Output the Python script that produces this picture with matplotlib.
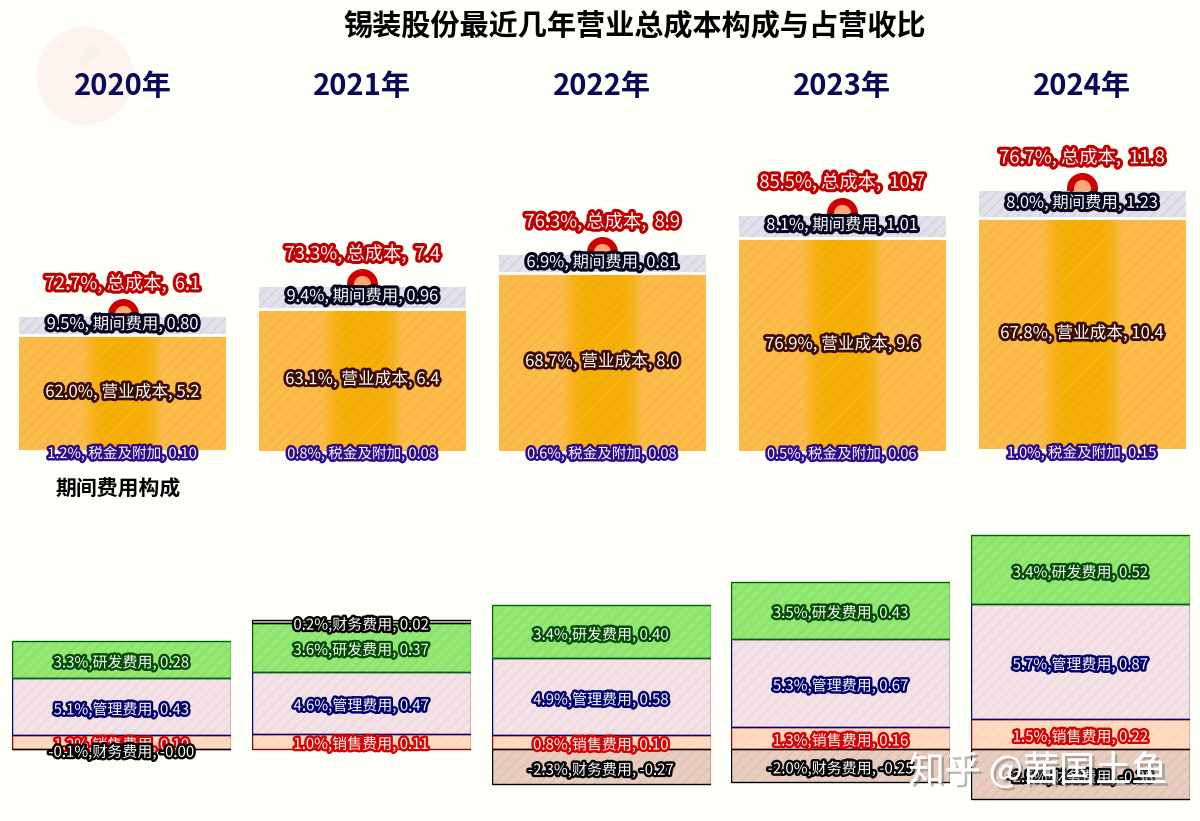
import matplotlib
matplotlib.use('Agg')
import matplotlib.pyplot as plt
import matplotlib.patheffects as pe
from matplotlib.colors import to_rgb
from matplotlib.patches import Ellipse
import numpy as np

plt.rcParams['font.family'] = ['Noto Sans CJK SC', 'DejaVu Sans']
plt.rcParams['hatch.linewidth'] = 0.8

# --- dados ---
anos = ['2020年', '2021年', '2022年', '2023年', '2024年']

total_pct = [72.7, 73.3, 76.3, 85.5, 76.7]
total_val = [6.1, 7.4, 8.9, 10.7, 11.8]
periodo_pct = [9.5, 9.4, 6.9, 8.1, 8.0]
periodo_val = [0.80, 0.96, 0.81, 1.01, 1.23]
custo_pct = [62.0, 63.1, 68.7, 76.9, 67.8]
custo_val = [5.2, 6.4, 8.0, 9.6, 10.4]
taxa_pct = [1.2, 0.8, 0.6, 0.5, 1.0]
taxa_val = [0.10, 0.08, 0.08, 0.06, 0.15]

venda_pct = [1.2, 1.0, 0.8, 1.3, 1.5]
venda_val = [0.10, 0.11, 0.10, 0.16, 0.22]
admin_pct = [5.1, 4.6, 4.9, 5.3, 5.7]
admin_val = [0.43, 0.47, 0.58, 0.67, 0.87]
rd_pct = [3.3, 3.6, 3.4, 3.5, 3.4]
rd_val = [0.28, 0.37, 0.40, 0.43, 0.52]
fin_pct = [-0.1, 0.2, -2.3, -2.0, -2.5]
fin_val = [-0.00, 0.02, -0.27, -0.25, -0.38]

BG = '#FFFFFA'
W, H = 1200, 821


def eixo(x0, y_topo, largura, y_base, ylim):
    ax = fig.add_axes([x0 / W, 1 - y_base / H, largura / W, (y_base - y_topo) / H])
    ax.set_xlim(-0.5, 0.5)
    ax.set_ylim(*ylim)
    ax.axis('off')
    return ax


def rotulo(ax, y, txt, cor, size, lw, dy=0, fam=None, weight='medium', zorder=10):
    ax.annotate(txt, (0, y), xytext=(0, dy), textcoords='offset points',
                ha='center', va='center', fontsize=size, color='white',
                weight=weight, family=fam or ['Noto Sans CJK SC', 'DejaVu Sans'],
                zorder=zorder, annotation_clip=False,
                path_effects=[pe.withStroke(linewidth=lw, foreground=cor)])


fig = plt.figure(figsize=(12, 8.21), dpi=100, facecolor=BG)

# --- logo e títulos ---
fig.add_artist(Ellipse((85 / W, 1 - 76 / H), 97 / W, 98 / H, transform=fig.transFigure,
                       facecolor='#FEF3EF', edgecolor='none'))
fig.add_artist(Ellipse((85 / W, 1 - 78 / H), 48 / W, 50 / H, transform=fig.transFigure,
                       facecolor='none', edgecolor='#FFF9F6', linewidth=1.2))
fig.add_artist(Ellipse((89 / W, 1 - 56 / H), 13 / W, 24 / H, angle=-25, transform=fig.transFigure,
                       facecolor='#F3F3EC', edgecolor='none'))
fig.text(635 / W, 1 - 25.5 / H, '锡装股份最近几年营业总成本构成与占营收比', ha='center', va='center',
         fontsize=21, weight='bold', color='black')
fig.text(118 / W, 1 - 489.5 / H, '期间费用构成', ha='center', va='center',
         fontsize=15, weight='black', color='black')

# faixa central mais saturada das barras laranja
alpha_faixa = np.array([0, 0, 0, 0, 0, 0, 0, 0.7, 1, 1, 1, 1, 1, 0.7, 0, 0, 0, 0, 0, 0, 0])
rgba_faixa = np.zeros((1, alpha_faixa.size, 4))
rgba_faixa[..., :3] = to_rgb('#F5AE00')
rgba_faixa[..., 3] = alpha_faixa

# --- linha de cima ---
esc_topo = 22.2
for i in range(5):
    x0 = 19 + 239.9 * i
    ax = eixo(x0, 140, 207, 452.5, (0, 312.5 / esc_topo))
    fig.text((x0 + 103.5) / W, 1 - 86.5 / H, anos[i], ha='center', va='center',
             fontsize=21, weight='bold', color='#0A0A5C')

    b1 = taxa_val[i]
    b2 = b1 + custo_val[i]
    topo = b2 + periodo_val[i]

    ax.scatter([0], [topo + 0.14], s=300, facecolor='#FFA673', edgecolor='#CC0000',
               linewidth=5, zorder=1, clip_on=False)

    ax.bar(0, taxa_val[i], 1, color=BG, edgecolor='none', zorder=2)
    ax.bar(0, custo_val[i], 1, bottom=b1, color='#FCBC4C', edgecolor='none', zorder=2)
    ax.imshow(rgba_faixa, extent=[-0.5, 0.5, b1, b2], aspect='auto',
              interpolation='bilinear', zorder=2.1)
    ax.set_xlim(-0.5, 0.5)
    ax.set_ylim(0, 312.5 / esc_topo)
    ax.bar(0, custo_val[i], 1, bottom=b1, facecolor='none', edgecolor='#F6B23A', hatch='///',
           linewidth=0, zorder=2.2)
    ax.bar(0, periodo_val[i], 1, bottom=b2, color='#DEDDE8', alpha=0.88, edgecolor='none', zorder=3)
    ax.bar(0, periodo_val[i], 1, bottom=b2, facecolor='none', edgecolor='#D0CFDF', hatch='///',
           linewidth=0, zorder=3.1)
    ax.plot([-0.5, 0.5], [b2, b2], color='white', linewidth=2, zorder=4)

    rotulo(ax, topo, f'{total_pct[i]:.1f}%, 总成本,  {total_val[i]:.1f}', '#C00000', 13.2, 4.5, dy=24)
    rotulo(ax, b2 + periodo_val[i] / 2, f'{periodo_pct[i]:.1f}%, 期间费用, {periodo_val[i]:.2f}',
           '#05051F', 11.8, 4.5, dy=1)
    rotulo(ax, b1 + custo_val[i] / 2, f'{custo_pct[i]:.1f}%, 营业成本, {custo_val[i]:.1f}',
           '#3D0C00', 12, 4)
    rotulo(ax, b1 / 2, f'{taxa_pct[i]:.1f}%, 税金及附加, {taxa_val[i]:.2f}',
           '#2E0A8C', 10.5, 3.5, dy=-1.5)

# --- linha de baixo ---
esc_baixo = 132.5
estreita = ['Liberation Sans Narrow', 'Noto Sans CJK SC', 'DejaVu Sans']
ylim_baixo = ((748.5 - 810) / esc_baixo, (748.5 - 500) / esc_baixo)
for i in range(5):
    x0 = 12 + 239.75 * i
    ax = eixo(x0, 500, 219, 810, ylim_baixo)
    base = 0
    pilha = [
        (venda_val[i], venda_pct[i], '销售费用', '#FFDABE', '#8B0000', '#D80000', '#FAD3B4'),
        (admin_val[i], admin_pct[i], '管理费用', '#F3E1E5', '#000080', '#00006E', '#E9D6DC'),
        (rd_val[i], rd_pct[i], '研发费用', '#92E873', '#006400', '#004D00', '#86DC68'),
    ]
    for val, pct, nome, cor, borda, stroke, cor_h in pilha:
        ax.bar(0, val, 1, bottom=base, color=cor, edgecolor='none', zorder=2)
        ax.bar(0, val, 1, bottom=base, facecolor='none', edgecolor=cor_h, hatch='///', linewidth=0, zorder=2.1)
        ax.bar(0, val, 1, bottom=base, facecolor='none', edgecolor=borda, linewidth=1, zorder=3)
        rotulo(ax, base + val / 2, f'{pct:.1f}%,{nome}, {val:.2f}', stroke, 10.8, 3.5, dy=-2, fam=estreita)
        base += val

    f = fin_val[i]
    b_fin = base if f > 0 else 0
    ax.bar(0, f, 1, bottom=b_fin, color='#E8CDBF', edgecolor='none', zorder=2.5)
    ax.bar(0, f, 1, bottom=b_fin, facecolor='none', edgecolor='#DDBFAF', hatch='///', linewidth=0, zorder=2.6)
    ax.bar(0, f, 1, bottom=b_fin, facecolor='none', edgecolor='black', linewidth=1, zorder=3.5)
    rotulo(ax, b_fin + f / 2, f'{fin_pct[i]:.1f}%,财务费用, {f:.2f}', 'black', 10.8, 3.5,
           dy=-2.5, fam=estreita, zorder=11)

# --- marca de água ---
fig.text(1038 / W, 1 - 771 / H, '知乎 @茜国土鱼', ha='center', va='center', fontsize=26,
         color='white', zorder=20,
         path_effects=[pe.withSimplePatchShadow(offset=(2, -2), shadow_rgbFace='#777777', alpha=0.5), pe.Normal()])

plt.savefig('out.png', dpi=100, facecolor=BG)
